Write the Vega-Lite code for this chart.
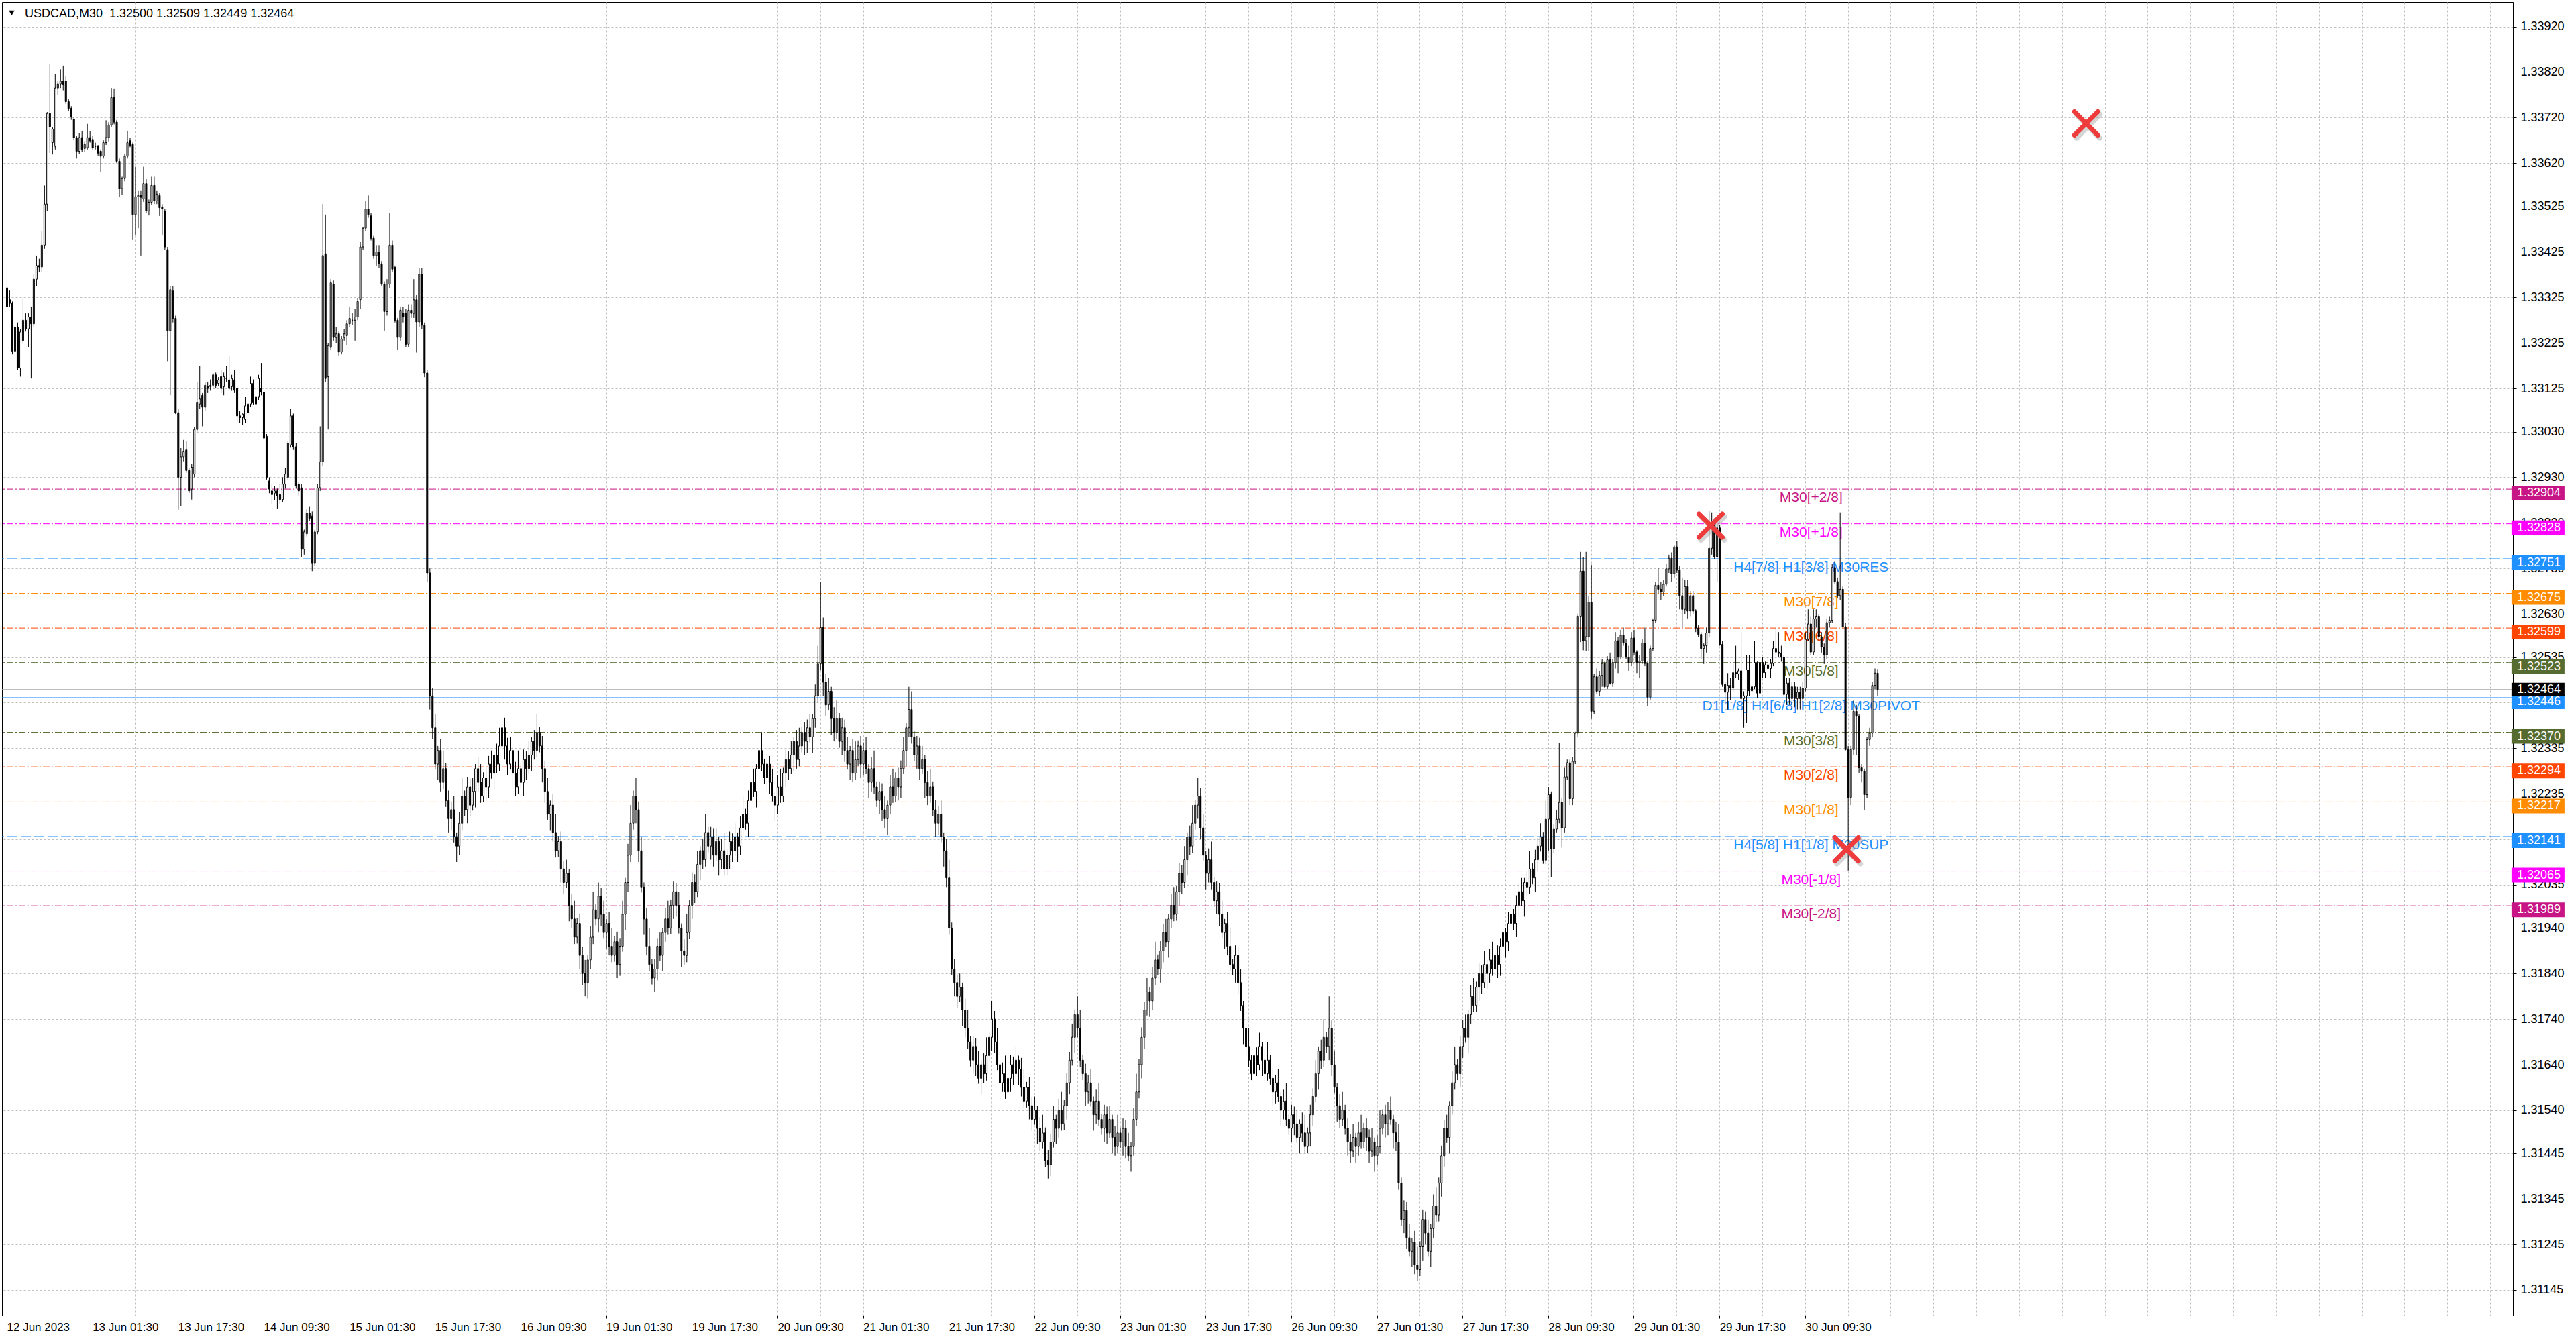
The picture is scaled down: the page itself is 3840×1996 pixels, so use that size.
{
"$schema":"https://vega.github.io/schema/vega-lite/v6.json",
"width":3743,"height":1958,
"autosize":"none",
"padding":{"left":3,"top":3,"right":94,"bottom":35},
"background":"white",
"config":{"view":{"stroke":"#000","strokeWidth":1},"font":"Liberation Sans"},
"datasets":{
"levels":[
{"v":1.32904,"label":"M30[+2/8]"},
{"v":1.32828,"label":"M30[+1/8]"},
{"v":1.32751,"label":"H4[7/8] H1[3/8] M30RES"},
{"v":1.32675,"label":"M30[7/8]"},
{"v":1.32599,"label":"M30[6/8]"},
{"v":1.32523,"label":"M30[5/8]"},
{"v":1.32446,"label":"D1[1/8] H4[6/8] H1[2/8] M30PIVOT"},
{"v":1.32370,"label":"M30[3/8]"},
{"v":1.32294,"label":"M30[2/8]"},
{"v":1.32217,"label":"M30[1/8]"},
{"v":1.32141,"label":"H4[5/8] H1[1/8] M30SUP"},
{"v":1.32065,"label":"M30[-1/8]"},
{"v":1.31989,"label":"M30[-2/8]"}
],
"bid":[{"v":1.32464}],
"marks":[{"i":636.7,"p":1.32824},{"i":687.5,"p":1.32113},{"i":777,"p":1.33707}],
"bars":[
{"i":0,"o":1.33346,"h":1.33391,"l":1.33301,"c":1.33305},
{"i":1,"o":1.33320,"h":1.33340,"l":1.33305,"c":1.33312},
{"i":2,"o":1.33312,"h":1.33316,"l":1.33200,"c":1.33207},
{"i":3,"o":1.33207,"h":1.33264,"l":1.33196,"c":1.33260},
{"i":4,"o":1.33260,"h":1.33270,"l":1.33166,"c":1.33170},
{"i":5,"o":1.33170,"h":1.33256,"l":1.33151,"c":1.33249},
{"i":6,"o":1.33230,"h":1.33324,"l":1.33222,"c":1.33275},
{"i":7,"o":1.33275,"h":1.33290,"l":1.33250,"c":1.33256},
{"i":8,"o":1.33256,"h":1.33290,"l":1.33215,"c":1.33282},
{"i":9,"o":1.33282,"h":1.33305,"l":1.33147,"c":1.33267},
{"i":10,"o":1.33267,"h":1.33376,"l":1.33260,"c":1.33365},
{"i":11,"o":1.33365,"h":1.33417,"l":1.33350,"c":1.33395},
{"i":12,"o":1.33395,"h":1.33410,"l":1.33380,"c":1.33392},
{"i":13,"o":1.33392,"h":1.33470,"l":1.33380,"c":1.33440},
{"i":14,"o":1.33440,"h":1.33571,"l":1.33432,"c":1.33530},
{"i":15,"o":1.33530,"h":1.33732,"l":1.33515,"c":1.33729},
{"i":16,"o":1.33729,"h":1.33837,"l":1.33642,"c":1.33699},
{"i":17,"o":1.33665,"h":1.33699,"l":1.33639,"c":1.33695},
{"i":18,"o":1.33657,"h":1.33815,"l":1.33650,"c":1.33785},
{"i":19,"o":1.33785,"h":1.33800,"l":1.33770,"c":1.33794},
{"i":20,"o":1.33794,"h":1.33826,"l":1.33785,"c":1.33800},
{"i":21,"o":1.33800,"h":1.33834,"l":1.33780,"c":1.33792},
{"i":22,"o":1.33800,"h":1.33810,"l":1.33750,"c":1.33755},
{"i":23,"o":1.33755,"h":1.33760,"l":1.33735,"c":1.33740},
{"i":24,"o":1.33740,"h":1.33745,"l":1.33715,"c":1.33721},
{"i":25,"o":1.33716,"h":1.33720,"l":1.33670,"c":1.33676},
{"i":26,"o":1.33676,"h":1.33680,"l":1.33630,"c":1.33646},
{"i":27,"o":1.33646,"h":1.33685,"l":1.33640,"c":1.33676},
{"i":28,"o":1.33676,"h":1.33691,"l":1.33645,"c":1.33650},
{"i":29,"o":1.33652,"h":1.33668,"l":1.33645,"c":1.33661},
{"i":30,"o":1.33654,"h":1.33706,"l":1.33650,"c":1.33676},
{"i":31,"o":1.33676,"h":1.33690,"l":1.33665,"c":1.33669},
{"i":32,"o":1.33672,"h":1.33680,"l":1.33650,"c":1.33654},
{"i":33,"o":1.33657,"h":1.33665,"l":1.33650,"c":1.33657},
{"i":34,"o":1.33657,"h":1.33660,"l":1.33635,"c":1.33642},
{"i":35,"o":1.33646,"h":1.33650,"l":1.33601,"c":1.33635},
{"i":36,"o":1.33635,"h":1.33670,"l":1.33630,"c":1.33665},
{"i":37,"o":1.33665,"h":1.33714,"l":1.33660,"c":1.33676},
{"i":38,"o":1.33676,"h":1.33710,"l":1.33668,"c":1.33704},
{"i":39,"o":1.33704,"h":1.33785,"l":1.33700,"c":1.33764},
{"i":40,"o":1.33764,"h":1.33784,"l":1.33705,"c":1.33710},
{"i":41,"o":1.33710,"h":1.33715,"l":1.33620,"c":1.33624},
{"i":42,"o":1.33624,"h":1.33630,"l":1.33546,"c":1.33564},
{"i":43,"o":1.33564,"h":1.33590,"l":1.33550,"c":1.33586},
{"i":44,"o":1.33586,"h":1.33640,"l":1.33580,"c":1.33635},
{"i":45,"o":1.33635,"h":1.33691,"l":1.33630,"c":1.33665},
{"i":46,"o":1.33669,"h":1.33675,"l":1.33655,"c":1.33659},
{"i":47,"o":1.33661,"h":1.33665,"l":1.33451,"c":1.33507},
{"i":48,"o":1.33507,"h":1.33612,"l":1.33462,"c":1.33546},
{"i":49,"o":1.33546,"h":1.33560,"l":1.33477,"c":1.33549},
{"i":50,"o":1.33549,"h":1.33560,"l":1.33417,"c":1.33545},
{"i":51,"o":1.33541,"h":1.33612,"l":1.33535,"c":1.33575},
{"i":52,"o":1.33575,"h":1.33585,"l":1.33510,"c":1.33515},
{"i":53,"o":1.33515,"h":1.33540,"l":1.33505,"c":1.33534},
{"i":54,"o":1.33534,"h":1.33590,"l":1.33528,"c":1.33571},
{"i":55,"o":1.33571,"h":1.33590,"l":1.33530,"c":1.33537},
{"i":56,"o":1.33537,"h":1.33560,"l":1.33530,"c":1.33552},
{"i":57,"o":1.33549,"h":1.33555,"l":1.33504,"c":1.33522},
{"i":58,"o":1.33524,"h":1.33530,"l":1.33462,"c":1.33519},
{"i":59,"o":1.33515,"h":1.33520,"l":1.33430,"c":1.33436},
{"i":60,"o":1.33430,"h":1.33436,"l":1.33185,"c":1.33252},
{"i":61,"o":1.33252,"h":1.33350,"l":1.33110,"c":1.33342},
{"i":62,"o":1.33339,"h":1.33350,"l":1.33270,"c":1.33279},
{"i":63,"o":1.33279,"h":1.33285,"l":1.33069,"c":1.33072},
{"i":64,"o":1.33072,"h":1.33080,"l":1.32859,"c":1.32930},
{"i":65,"o":1.32930,"h":1.32994,"l":1.32866,"c":1.32975},
{"i":66,"o":1.32975,"h":1.33012,"l":1.32965,"c":1.32986},
{"i":67,"o":1.32990,"h":1.33009,"l":1.32940,"c":1.32945},
{"i":68,"o":1.32945,"h":1.32950,"l":1.32895,"c":1.32900},
{"i":69,"o":1.32904,"h":1.32960,"l":1.32881,"c":1.32952},
{"i":70,"o":1.32937,"h":1.33040,"l":1.32930,"c":1.33035},
{"i":71,"o":1.33035,"h":1.33140,"l":1.33030,"c":1.33095},
{"i":72,"o":1.33091,"h":1.33174,"l":1.33080,"c":1.33102},
{"i":73,"o":1.33110,"h":1.33115,"l":1.33042,"c":1.33084},
{"i":74,"o":1.33084,"h":1.33140,"l":1.33075,"c":1.33132},
{"i":75,"o":1.33129,"h":1.33140,"l":1.33115,"c":1.33125},
{"i":76,"o":1.33129,"h":1.33145,"l":1.33120,"c":1.33132},
{"i":77,"o":1.33132,"h":1.33159,"l":1.33125,"c":1.33155},
{"i":78,"o":1.33155,"h":1.33160,"l":1.33125,"c":1.33132},
{"i":79,"o":1.33136,"h":1.33150,"l":1.33130,"c":1.33144},
{"i":80,"o":1.33151,"h":1.33165,"l":1.33115,"c":1.33125},
{"i":81,"o":1.33129,"h":1.33160,"l":1.33110,"c":1.33151},
{"i":82,"o":1.33147,"h":1.33174,"l":1.33140,"c":1.33147},
{"i":83,"o":1.33144,"h":1.33196,"l":1.33120,"c":1.33125},
{"i":84,"o":1.33129,"h":1.33155,"l":1.33120,"c":1.33147},
{"i":85,"o":1.33144,"h":1.33166,"l":1.33115,"c":1.33121},
{"i":86,"o":1.33125,"h":1.33130,"l":1.33050,"c":1.33065},
{"i":87,"o":1.33065,"h":1.33075,"l":1.33050,"c":1.33061},
{"i":88,"o":1.33061,"h":1.33070,"l":1.33045,"c":1.33069},
{"i":89,"o":1.33057,"h":1.33106,"l":1.33050,"c":1.33087},
{"i":90,"o":1.33072,"h":1.33095,"l":1.33065,"c":1.33091},
{"i":91,"o":1.33091,"h":1.33151,"l":1.33085,"c":1.33136},
{"i":92,"o":1.33136,"h":1.33145,"l":1.33090,"c":1.33095},
{"i":93,"o":1.33091,"h":1.33110,"l":1.33060,"c":1.33106},
{"i":94,"o":1.33106,"h":1.33155,"l":1.33100,"c":1.33147},
{"i":95,"o":1.33125,"h":1.33181,"l":1.33110,"c":1.33117},
{"i":96,"o":1.33117,"h":1.33125,"l":1.33010,"c":1.33016},
{"i":97,"o":1.33020,"h":1.33025,"l":1.32925,"c":1.32930},
{"i":98,"o":1.32922,"h":1.32930,"l":1.32895,"c":1.32904},
{"i":99,"o":1.32900,"h":1.32915,"l":1.32870,"c":1.32892},
{"i":100,"o":1.32895,"h":1.32910,"l":1.32880,"c":1.32900},
{"i":101,"o":1.32900,"h":1.32905,"l":1.32860,"c":1.32889},
{"i":102,"o":1.32892,"h":1.32915,"l":1.32870,"c":1.32881},
{"i":103,"o":1.32881,"h":1.32930,"l":1.32875,"c":1.32915},
{"i":104,"o":1.32915,"h":1.32950,"l":1.32905,"c":1.32937},
{"i":105,"o":1.32930,"h":1.33010,"l":1.32925,"c":1.33005},
{"i":106,"o":1.33001,"h":1.33080,"l":1.32995,"c":1.33065},
{"i":107,"o":1.33065,"h":1.33070,"l":1.32990,"c":1.32997},
{"i":108,"o":1.32997,"h":1.33005,"l":1.32905,"c":1.32911},
{"i":109,"o":1.32915,"h":1.32920,"l":1.32890,"c":1.32900},
{"i":110,"o":1.32907,"h":1.32915,"l":1.32754,"c":1.32772},
{"i":111,"o":1.32772,"h":1.32815,"l":1.32760,"c":1.32810},
{"i":112,"o":1.32806,"h":1.32860,"l":1.32800,"c":1.32851},
{"i":113,"o":1.32851,"h":1.32865,"l":1.32835,"c":1.32840},
{"i":114,"o":1.32845,"h":1.32855,"l":1.32724,"c":1.32742},
{"i":115,"o":1.32742,"h":1.32815,"l":1.32735,"c":1.32810},
{"i":116,"o":1.32810,"h":1.32915,"l":1.32805,"c":1.32907},
{"i":117,"o":1.32907,"h":1.33042,"l":1.32900,"c":1.32964},
{"i":118,"o":1.32964,"h":1.33530,"l":1.32955,"c":1.33417},
{"i":119,"o":1.33421,"h":1.33507,"l":1.33140,"c":1.33147},
{"i":120,"o":1.33151,"h":1.33225,"l":1.33035,"c":1.33219},
{"i":121,"o":1.33215,"h":1.33365,"l":1.33210,"c":1.33357},
{"i":122,"o":1.33354,"h":1.33362,"l":1.33230,"c":1.33237},
{"i":123,"o":1.33237,"h":1.33260,"l":1.33225,"c":1.33245},
{"i":124,"o":1.33245,"h":1.33250,"l":1.33196,"c":1.33205},
{"i":125,"o":1.33205,"h":1.33240,"l":1.33200,"c":1.33234},
{"i":126,"o":1.33237,"h":1.33255,"l":1.33230,"c":1.33245},
{"i":127,"o":1.33241,"h":1.33275,"l":1.33220,"c":1.33267},
{"i":128,"o":1.33267,"h":1.33305,"l":1.33260,"c":1.33279},
{"i":129,"o":1.33275,"h":1.33290,"l":1.33265,"c":1.33275},
{"i":130,"o":1.33275,"h":1.33300,"l":1.33230,"c":1.33282},
{"i":131,"o":1.33282,"h":1.33324,"l":1.33275,"c":1.33316},
{"i":132,"o":1.33320,"h":1.33447,"l":1.33300,"c":1.33436},
{"i":133,"o":1.33436,"h":1.33480,"l":1.33430,"c":1.33477},
{"i":134,"o":1.33477,"h":1.33537,"l":1.33470,"c":1.33519},
{"i":135,"o":1.33519,"h":1.33549,"l":1.33500,"c":1.33507},
{"i":136,"o":1.33504,"h":1.33510,"l":1.33450,"c":1.33455},
{"i":137,"o":1.33455,"h":1.33460,"l":1.33410,"c":1.33417},
{"i":138,"o":1.33417,"h":1.33440,"l":1.33395,"c":1.33425},
{"i":139,"o":1.33425,"h":1.33440,"l":1.33390,"c":1.33399},
{"i":140,"o":1.33399,"h":1.33405,"l":1.33350,"c":1.33354},
{"i":141,"o":1.33354,"h":1.33360,"l":1.33252,"c":1.33294},
{"i":142,"o":1.33294,"h":1.33365,"l":1.33285,"c":1.33354},
{"i":143,"o":1.33354,"h":1.33511,"l":1.33345,"c":1.33440},
{"i":144,"o":1.33440,"h":1.33450,"l":1.33380,"c":1.33387},
{"i":145,"o":1.33391,"h":1.33395,"l":1.33270,"c":1.33275},
{"i":146,"o":1.33275,"h":1.33280,"l":1.33210,"c":1.33237},
{"i":147,"o":1.33237,"h":1.33305,"l":1.33230,"c":1.33297},
{"i":148,"o":1.33290,"h":1.33305,"l":1.33270,"c":1.33282},
{"i":149,"o":1.33290,"h":1.33300,"l":1.33215,"c":1.33222},
{"i":150,"o":1.33222,"h":1.33310,"l":1.33215,"c":1.33297},
{"i":151,"o":1.33297,"h":1.33310,"l":1.33280,"c":1.33290},
{"i":152,"o":1.33290,"h":1.33365,"l":1.33280,"c":1.33320},
{"i":153,"o":1.33320,"h":1.33330,"l":1.33204,"c":1.33271},
{"i":154,"o":1.33271,"h":1.33390,"l":1.33260,"c":1.33376},
{"i":155,"o":1.33376,"h":1.33390,"l":1.33255,"c":1.33264},
{"i":156,"o":1.33264,"h":1.33270,"l":1.33150,"c":1.33159},
{"i":157,"o":1.33159,"h":1.33165,"l":1.32700,"c":1.32720},
{"i":158,"o":1.32720,"h":1.32730,"l":1.32420,"c":1.32450},
{"i":159,"o":1.32450,"h":1.32468,"l":1.32355,"c":1.32380},
{"i":160,"o":1.32380,"h":1.32410,"l":1.32288,"c":1.32300},
{"i":161,"o":1.32300,"h":1.32340,"l":1.32265,"c":1.32330},
{"i":162,"o":1.32330,"h":1.32355,"l":1.32240,"c":1.32260},
{"i":163,"o":1.32260,"h":1.32330,"l":1.32245,"c":1.32290},
{"i":164,"o":1.32290,"h":1.32302,"l":1.32206,"c":1.32220},
{"i":165,"o":1.32220,"h":1.32242,"l":1.32150,"c":1.32180},
{"i":166,"o":1.32180,"h":1.32218,"l":1.32155,"c":1.32200},
{"i":167,"o":1.32200,"h":1.32230,"l":1.32128,"c":1.32140},
{"i":168,"o":1.32140,"h":1.32150,"l":1.32085,"c":1.32120},
{"i":169,"o":1.32120,"h":1.32195,"l":1.32100,"c":1.32170},
{"i":170,"o":1.32170,"h":1.32270,"l":1.32155,"c":1.32230},
{"i":171,"o":1.32230,"h":1.32242,"l":1.32186,"c":1.32200},
{"i":172,"o":1.32200,"h":1.32272,"l":1.32170,"c":1.32250},
{"i":173,"o":1.32250,"h":1.32268,"l":1.32185,"c":1.32210},
{"i":174,"o":1.32210,"h":1.32270,"l":1.32198,"c":1.32240},
{"i":175,"o":1.32240,"h":1.32300,"l":1.32205,"c":1.32290},
{"i":176,"o":1.32290,"h":1.32315,"l":1.32240,"c":1.32260},
{"i":177,"o":1.32260,"h":1.32300,"l":1.32215,"c":1.32230},
{"i":178,"o":1.32230,"h":1.32282,"l":1.32216,"c":1.32270},
{"i":179,"o":1.32270,"h":1.32292,"l":1.32220,"c":1.32250},
{"i":180,"o":1.32250,"h":1.32318,"l":1.32225,"c":1.32300},
{"i":181,"o":1.32300,"h":1.32330,"l":1.32268,"c":1.32280},
{"i":182,"o":1.32280,"h":1.32330,"l":1.32245,"c":1.32320},
{"i":183,"o":1.32320,"h":1.32345,"l":1.32280,"c":1.32300},
{"i":184,"o":1.32300,"h":1.32380,"l":1.32285,"c":1.32340},
{"i":185,"o":1.32340,"h":1.32400,"l":1.32326,"c":1.32380},
{"i":186,"o":1.32380,"h":1.32402,"l":1.32310,"c":1.32340},
{"i":187,"o":1.32340,"h":1.32358,"l":1.32275,"c":1.32300},
{"i":188,"o":1.32300,"h":1.32360,"l":1.32288,"c":1.32330},
{"i":189,"o":1.32330,"h":1.32340,"l":1.32245,"c":1.32280},
{"i":190,"o":1.32280,"h":1.32305,"l":1.32230,"c":1.32250},
{"i":191,"o":1.32250,"h":1.32330,"l":1.32235,"c":1.32290},
{"i":192,"o":1.32290,"h":1.32302,"l":1.32246,"c":1.32260},
{"i":193,"o":1.32260,"h":1.32332,"l":1.32230,"c":1.32310},
{"i":194,"o":1.32310,"h":1.32328,"l":1.32265,"c":1.32290},
{"i":195,"o":1.32290,"h":1.32350,"l":1.32278,"c":1.32320},
{"i":196,"o":1.32320,"h":1.32360,"l":1.32285,"c":1.32350},
{"i":197,"o":1.32350,"h":1.32375,"l":1.32310,"c":1.32330},
{"i":198,"o":1.32330,"h":1.32410,"l":1.32315,"c":1.32370},
{"i":199,"o":1.32370,"h":1.32382,"l":1.32326,"c":1.32340},
{"i":200,"o":1.32340,"h":1.32362,"l":1.32260,"c":1.32290},
{"i":201,"o":1.32290,"h":1.32308,"l":1.32215,"c":1.32240},
{"i":202,"o":1.32240,"h":1.32270,"l":1.32178,"c":1.32190},
{"i":203,"o":1.32190,"h":1.32220,"l":1.32155,"c":1.32210},
{"i":204,"o":1.32210,"h":1.32235,"l":1.32130,"c":1.32150},
{"i":205,"o":1.32150,"h":1.32190,"l":1.32095,"c":1.32110},
{"i":206,"o":1.32110,"h":1.32142,"l":1.32096,"c":1.32130},
{"i":207,"o":1.32130,"h":1.32152,"l":1.32040,"c":1.32070},
{"i":208,"o":1.32070,"h":1.32088,"l":1.32015,"c":1.32040},
{"i":209,"o":1.32040,"h":1.32090,"l":1.32028,"c":1.32060},
{"i":210,"o":1.32060,"h":1.32070,"l":1.31955,"c":1.31990},
{"i":211,"o":1.31990,"h":1.32015,"l":1.31940,"c":1.31960},
{"i":212,"o":1.31960,"h":1.32000,"l":1.31905,"c":1.31920},
{"i":213,"o":1.31920,"h":1.31962,"l":1.31906,"c":1.31950},
{"i":214,"o":1.31950,"h":1.31972,"l":1.31850,"c":1.31880},
{"i":215,"o":1.31880,"h":1.31898,"l":1.31815,"c":1.31840},
{"i":216,"o":1.31840,"h":1.31870,"l":1.31790,"c":1.31820},
{"i":217,"o":1.31820,"h":1.31880,"l":1.31785,"c":1.31870},
{"i":218,"o":1.31870,"h":1.31945,"l":1.31850,"c":1.31920},
{"i":219,"o":1.31920,"h":1.32020,"l":1.31905,"c":1.31980},
{"i":220,"o":1.31980,"h":1.31992,"l":1.31946,"c":1.31960},
{"i":221,"o":1.31960,"h":1.32040,"l":1.31930,"c":1.32010},
{"i":222,"o":1.32010,"h":1.32028,"l":1.31945,"c":1.31970},
{"i":223,"o":1.31970,"h":1.32000,"l":1.31918,"c":1.31930},
{"i":224,"o":1.31930,"h":1.31960,"l":1.31895,"c":1.31950},
{"i":225,"o":1.31950,"h":1.31975,"l":1.31880,"c":1.31900},
{"i":226,"o":1.31900,"h":1.31940,"l":1.31865,"c":1.31880},
{"i":227,"o":1.31880,"h":1.31922,"l":1.31866,"c":1.31910},
{"i":228,"o":1.31910,"h":1.31932,"l":1.31830,"c":1.31860},
{"i":229,"o":1.31860,"h":1.31918,"l":1.31835,"c":1.31900},
{"i":230,"o":1.31900,"h":1.32000,"l":1.31888,"c":1.31970},
{"i":231,"o":1.31970,"h":1.32050,"l":1.31935,"c":1.32040},
{"i":232,"o":1.32040,"h":1.32125,"l":1.32020,"c":1.32100},
{"i":233,"o":1.32100,"h":1.32210,"l":1.32085,"c":1.32170},
{"i":234,"o":1.32170,"h":1.32242,"l":1.32156,"c":1.32230},
{"i":235,"o":1.32230,"h":1.32270,"l":1.32170,"c":1.32200},
{"i":236,"o":1.32200,"h":1.32218,"l":1.32085,"c":1.32110},
{"i":237,"o":1.32110,"h":1.32140,"l":1.32018,"c":1.32030},
{"i":238,"o":1.32030,"h":1.32040,"l":1.31925,"c":1.31960},
{"i":239,"o":1.31960,"h":1.31985,"l":1.31880,"c":1.31900},
{"i":240,"o":1.31900,"h":1.31940,"l":1.31845,"c":1.31860},
{"i":241,"o":1.31860,"h":1.31872,"l":1.31816,"c":1.31830},
{"i":242,"o":1.31830,"h":1.31872,"l":1.31800,"c":1.31850},
{"i":243,"o":1.31850,"h":1.31918,"l":1.31825,"c":1.31900},
{"i":244,"o":1.31900,"h":1.31930,"l":1.31868,"c":1.31880},
{"i":245,"o":1.31880,"h":1.31940,"l":1.31845,"c":1.31930},
{"i":246,"o":1.31930,"h":1.31985,"l":1.31910,"c":1.31960},
{"i":247,"o":1.31960,"h":1.32000,"l":1.31925,"c":1.31940},
{"i":248,"o":1.31940,"h":1.32002,"l":1.31926,"c":1.31990},
{"i":249,"o":1.31990,"h":1.32042,"l":1.31960,"c":1.32020},
{"i":250,"o":1.32020,"h":1.32038,"l":1.31965,"c":1.31990},
{"i":251,"o":1.31990,"h":1.32020,"l":1.31928,"c":1.31940},
{"i":252,"o":1.31940,"h":1.31950,"l":1.31855,"c":1.31890},
{"i":253,"o":1.31890,"h":1.31915,"l":1.31860,"c":1.31880},
{"i":254,"o":1.31880,"h":1.31970,"l":1.31865,"c":1.31930},
{"i":255,"o":1.31930,"h":1.32002,"l":1.31916,"c":1.31990},
{"i":256,"o":1.31990,"h":1.32062,"l":1.31960,"c":1.32040},
{"i":257,"o":1.32040,"h":1.32058,"l":1.31995,"c":1.32020},
{"i":258,"o":1.32020,"h":1.32110,"l":1.32008,"c":1.32080},
{"i":259,"o":1.32080,"h":1.32120,"l":1.32045,"c":1.32110},
{"i":260,"o":1.32110,"h":1.32135,"l":1.32070,"c":1.32090},
{"i":261,"o":1.32090,"h":1.32190,"l":1.32075,"c":1.32150},
{"i":262,"o":1.32150,"h":1.32162,"l":1.32106,"c":1.32120},
{"i":263,"o":1.32120,"h":1.32162,"l":1.32090,"c":1.32140},
{"i":264,"o":1.32140,"h":1.32158,"l":1.32075,"c":1.32100},
{"i":265,"o":1.32100,"h":1.32160,"l":1.32088,"c":1.32130},
{"i":266,"o":1.32130,"h":1.32140,"l":1.32055,"c":1.32090},
{"i":267,"o":1.32090,"h":1.32135,"l":1.32070,"c":1.32110},
{"i":268,"o":1.32110,"h":1.32150,"l":1.32055,"c":1.32070},
{"i":269,"o":1.32070,"h":1.32112,"l":1.32056,"c":1.32100},
{"i":270,"o":1.32100,"h":1.32152,"l":1.32070,"c":1.32130},
{"i":271,"o":1.32130,"h":1.32148,"l":1.32085,"c":1.32110},
{"i":272,"o":1.32110,"h":1.32170,"l":1.32098,"c":1.32140},
{"i":273,"o":1.32140,"h":1.32150,"l":1.32085,"c":1.32120},
{"i":274,"o":1.32120,"h":1.32185,"l":1.32100,"c":1.32160},
{"i":275,"o":1.32160,"h":1.32230,"l":1.32145,"c":1.32190},
{"i":276,"o":1.32190,"h":1.32202,"l":1.32156,"c":1.32170},
{"i":277,"o":1.32170,"h":1.32242,"l":1.32140,"c":1.32220},
{"i":278,"o":1.32220,"h":1.32278,"l":1.32195,"c":1.32260},
{"i":279,"o":1.32260,"h":1.32290,"l":1.32228,"c":1.32240},
{"i":280,"o":1.32240,"h":1.32300,"l":1.32205,"c":1.32290},
{"i":281,"o":1.32290,"h":1.32355,"l":1.32270,"c":1.32330},
{"i":282,"o":1.32330,"h":1.32370,"l":1.32285,"c":1.32300},
{"i":283,"o":1.32300,"h":1.32312,"l":1.32256,"c":1.32270},
{"i":284,"o":1.32270,"h":1.32322,"l":1.32240,"c":1.32300},
{"i":285,"o":1.32300,"h":1.32318,"l":1.32235,"c":1.32260},
{"i":286,"o":1.32260,"h":1.32290,"l":1.32218,"c":1.32230},
{"i":287,"o":1.32230,"h":1.32240,"l":1.32175,"c":1.32210},
{"i":288,"o":1.32210,"h":1.32275,"l":1.32190,"c":1.32250},
{"i":289,"o":1.32250,"h":1.32290,"l":1.32215,"c":1.32230},
{"i":290,"o":1.32230,"h":1.32292,"l":1.32216,"c":1.32280},
{"i":291,"o":1.32280,"h":1.32332,"l":1.32250,"c":1.32310},
{"i":292,"o":1.32310,"h":1.32328,"l":1.32265,"c":1.32290},
{"i":293,"o":1.32290,"h":1.32350,"l":1.32278,"c":1.32320},
{"i":294,"o":1.32320,"h":1.32360,"l":1.32285,"c":1.32350},
{"i":295,"o":1.32350,"h":1.32375,"l":1.32290,"c":1.32310},
{"i":296,"o":1.32310,"h":1.32380,"l":1.32295,"c":1.32340},
{"i":297,"o":1.32340,"h":1.32382,"l":1.32326,"c":1.32370},
{"i":298,"o":1.32370,"h":1.32392,"l":1.32320,"c":1.32350},
{"i":299,"o":1.32350,"h":1.32398,"l":1.32325,"c":1.32380},
{"i":300,"o":1.32380,"h":1.32410,"l":1.32348,"c":1.32360},
{"i":301,"o":1.32360,"h":1.32410,"l":1.32325,"c":1.32400},
{"i":302,"o":1.32400,"h":1.32475,"l":1.32380,"c":1.32450},
{"i":303,"o":1.32450,"h":1.32560,"l":1.32435,"c":1.32520},
{"i":304,"o":1.32520,"h":1.32700,"l":1.32506,"c":1.32600},
{"i":305,"o":1.32600,"h":1.32622,"l":1.32450,"c":1.32480},
{"i":306,"o":1.32480,"h":1.32498,"l":1.32405,"c":1.32430},
{"i":307,"o":1.32430,"h":1.32490,"l":1.32418,"c":1.32460},
{"i":308,"o":1.32460,"h":1.32470,"l":1.32365,"c":1.32400},
{"i":309,"o":1.32400,"h":1.32425,"l":1.32350,"c":1.32370},
{"i":310,"o":1.32370,"h":1.32440,"l":1.32355,"c":1.32400},
{"i":311,"o":1.32400,"h":1.32412,"l":1.32336,"c":1.32350},
{"i":312,"o":1.32350,"h":1.32402,"l":1.32320,"c":1.32380},
{"i":313,"o":1.32380,"h":1.32398,"l":1.32305,"c":1.32330},
{"i":314,"o":1.32330,"h":1.32360,"l":1.32288,"c":1.32300},
{"i":315,"o":1.32300,"h":1.32340,"l":1.32265,"c":1.32330},
{"i":316,"o":1.32330,"h":1.32355,"l":1.32260,"c":1.32280},
{"i":317,"o":1.32280,"h":1.32350,"l":1.32265,"c":1.32310},
{"i":318,"o":1.32310,"h":1.32352,"l":1.32296,"c":1.32340},
{"i":319,"o":1.32340,"h":1.32362,"l":1.32270,"c":1.32300},
{"i":320,"o":1.32300,"h":1.32348,"l":1.32275,"c":1.32330},
{"i":321,"o":1.32330,"h":1.32360,"l":1.32278,"c":1.32290},
{"i":322,"o":1.32290,"h":1.32300,"l":1.32225,"c":1.32260},
{"i":323,"o":1.32260,"h":1.32315,"l":1.32240,"c":1.32290},
{"i":324,"o":1.32290,"h":1.32330,"l":1.32235,"c":1.32250},
{"i":325,"o":1.32250,"h":1.32262,"l":1.32206,"c":1.32220},
{"i":326,"o":1.32220,"h":1.32262,"l":1.32190,"c":1.32240},
{"i":327,"o":1.32240,"h":1.32258,"l":1.32175,"c":1.32200},
{"i":328,"o":1.32200,"h":1.32230,"l":1.32160,"c":1.32180},
{"i":329,"o":1.32180,"h":1.32220,"l":1.32145,"c":1.32210},
{"i":330,"o":1.32210,"h":1.32275,"l":1.32190,"c":1.32250},
{"i":331,"o":1.32250,"h":1.32290,"l":1.32215,"c":1.32230},
{"i":332,"o":1.32230,"h":1.32282,"l":1.32216,"c":1.32270},
{"i":333,"o":1.32270,"h":1.32292,"l":1.32220,"c":1.32250},
{"i":334,"o":1.32250,"h":1.32308,"l":1.32225,"c":1.32290},
{"i":335,"o":1.32290,"h":1.32360,"l":1.32278,"c":1.32330},
{"i":336,"o":1.32330,"h":1.32390,"l":1.32295,"c":1.32380},
{"i":337,"o":1.32380,"h":1.32470,"l":1.32360,"c":1.32420},
{"i":338,"o":1.32420,"h":1.32460,"l":1.32345,"c":1.32360},
{"i":339,"o":1.32360,"h":1.32372,"l":1.32306,"c":1.32320},
{"i":340,"o":1.32320,"h":1.32362,"l":1.32290,"c":1.32340},
{"i":341,"o":1.32340,"h":1.32358,"l":1.32265,"c":1.32290},
{"i":342,"o":1.32290,"h":1.32340,"l":1.32278,"c":1.32310},
{"i":343,"o":1.32310,"h":1.32320,"l":1.32225,"c":1.32260},
{"i":344,"o":1.32260,"h":1.32285,"l":1.32210,"c":1.32230},
{"i":345,"o":1.32230,"h":1.32290,"l":1.32215,"c":1.32250},
{"i":346,"o":1.32250,"h":1.32262,"l":1.32186,"c":1.32200},
{"i":347,"o":1.32200,"h":1.32222,"l":1.32140,"c":1.32170},
{"i":348,"o":1.32170,"h":1.32208,"l":1.32145,"c":1.32190},
{"i":349,"o":1.32190,"h":1.32220,"l":1.32128,"c":1.32140},
{"i":350,"o":1.32140,"h":1.32150,"l":1.32075,"c":1.32110},
{"i":351,"o":1.32110,"h":1.32135,"l":1.32030,"c":1.32050},
{"i":352,"o":1.32050,"h":1.32090,"l":1.31925,"c":1.31940},
{"i":353,"o":1.31940,"h":1.31952,"l":1.31836,"c":1.31850},
{"i":354,"o":1.31850,"h":1.31872,"l":1.31790,"c":1.31820},
{"i":355,"o":1.31820,"h":1.31838,"l":1.31765,"c":1.31790},
{"i":356,"o":1.31790,"h":1.31840,"l":1.31778,"c":1.31810},
{"i":357,"o":1.31810,"h":1.31820,"l":1.31725,"c":1.31760},
{"i":358,"o":1.31760,"h":1.31785,"l":1.31700,"c":1.31720},
{"i":359,"o":1.31720,"h":1.31760,"l":1.31675,"c":1.31690},
{"i":360,"o":1.31690,"h":1.31702,"l":1.31636,"c":1.31650},
{"i":361,"o":1.31650,"h":1.31702,"l":1.31620,"c":1.31680},
{"i":362,"o":1.31680,"h":1.31698,"l":1.31615,"c":1.31640},
{"i":363,"o":1.31640,"h":1.31670,"l":1.31598,"c":1.31610},
{"i":364,"o":1.31610,"h":1.31650,"l":1.31575,"c":1.31640},
{"i":365,"o":1.31640,"h":1.31665,"l":1.31600,"c":1.31620},
{"i":366,"o":1.31620,"h":1.31700,"l":1.31605,"c":1.31660},
{"i":367,"o":1.31660,"h":1.31712,"l":1.31646,"c":1.31700},
{"i":368,"o":1.31700,"h":1.31780,"l":1.31670,"c":1.31740},
{"i":369,"o":1.31740,"h":1.31758,"l":1.31665,"c":1.31690},
{"i":370,"o":1.31690,"h":1.31720,"l":1.31628,"c":1.31640},
{"i":371,"o":1.31640,"h":1.31650,"l":1.31565,"c":1.31600},
{"i":372,"o":1.31600,"h":1.31645,"l":1.31580,"c":1.31620},
{"i":373,"o":1.31620,"h":1.31660,"l":1.31565,"c":1.31580},
{"i":374,"o":1.31580,"h":1.31622,"l":1.31566,"c":1.31610},
{"i":375,"o":1.31610,"h":1.31662,"l":1.31580,"c":1.31640},
{"i":376,"o":1.31640,"h":1.31658,"l":1.31595,"c":1.31620},
{"i":377,"o":1.31620,"h":1.31680,"l":1.31608,"c":1.31650},
{"i":378,"o":1.31650,"h":1.31660,"l":1.31595,"c":1.31630},
{"i":379,"o":1.31630,"h":1.31655,"l":1.31570,"c":1.31590},
{"i":380,"o":1.31590,"h":1.31630,"l":1.31545,"c":1.31560},
{"i":381,"o":1.31560,"h":1.31602,"l":1.31546,"c":1.31590},
{"i":382,"o":1.31590,"h":1.31612,"l":1.31520,"c":1.31550},
{"i":383,"o":1.31550,"h":1.31568,"l":1.31495,"c":1.31520},
{"i":384,"o":1.31520,"h":1.31570,"l":1.31508,"c":1.31540},
{"i":385,"o":1.31540,"h":1.31550,"l":1.31465,"c":1.31500},
{"i":386,"o":1.31500,"h":1.31525,"l":1.31450,"c":1.31470},
{"i":387,"o":1.31470,"h":1.31530,"l":1.31455,"c":1.31490},
{"i":388,"o":1.31490,"h":1.31502,"l":1.31416,"c":1.31430},
{"i":389,"o":1.31430,"h":1.31452,"l":1.31390,"c":1.31420},
{"i":390,"o":1.31420,"h":1.31488,"l":1.31395,"c":1.31470},
{"i":391,"o":1.31470,"h":1.31550,"l":1.31458,"c":1.31520},
{"i":392,"o":1.31520,"h":1.31530,"l":1.31465,"c":1.31500},
{"i":393,"o":1.31500,"h":1.31565,"l":1.31480,"c":1.31540},
{"i":394,"o":1.31540,"h":1.31580,"l":1.31495,"c":1.31510},
{"i":395,"o":1.31510,"h":1.31562,"l":1.31496,"c":1.31550},
{"i":396,"o":1.31550,"h":1.31622,"l":1.31520,"c":1.31600},
{"i":397,"o":1.31600,"h":1.31668,"l":1.31575,"c":1.31650},
{"i":398,"o":1.31650,"h":1.31730,"l":1.31638,"c":1.31700},
{"i":399,"o":1.31700,"h":1.31760,"l":1.31665,"c":1.31750},
{"i":400,"o":1.31750,"h":1.31790,"l":1.31700,"c":1.31720},
{"i":401,"o":1.31720,"h":1.31760,"l":1.31635,"c":1.31650},
{"i":402,"o":1.31650,"h":1.31662,"l":1.31606,"c":1.31620},
{"i":403,"o":1.31620,"h":1.31642,"l":1.31550,"c":1.31580},
{"i":404,"o":1.31580,"h":1.31618,"l":1.31555,"c":1.31600},
{"i":405,"o":1.31600,"h":1.31630,"l":1.31548,"c":1.31560},
{"i":406,"o":1.31560,"h":1.31570,"l":1.31495,"c":1.31530},
{"i":407,"o":1.31530,"h":1.31585,"l":1.31510,"c":1.31560},
{"i":408,"o":1.31560,"h":1.31600,"l":1.31505,"c":1.31520},
{"i":409,"o":1.31520,"h":1.31532,"l":1.31486,"c":1.31500},
{"i":410,"o":1.31500,"h":1.31552,"l":1.31470,"c":1.31530},
{"i":411,"o":1.31530,"h":1.31548,"l":1.31465,"c":1.31490},
{"i":412,"o":1.31490,"h":1.31550,"l":1.31478,"c":1.31520},
{"i":413,"o":1.31520,"h":1.31530,"l":1.31445,"c":1.31480},
{"i":414,"o":1.31480,"h":1.31505,"l":1.31440,"c":1.31460},
{"i":415,"o":1.31460,"h":1.31530,"l":1.31445,"c":1.31490},
{"i":416,"o":1.31490,"h":1.31502,"l":1.31456,"c":1.31470},
{"i":417,"o":1.31470,"h":1.31522,"l":1.31440,"c":1.31500},
{"i":418,"o":1.31500,"h":1.31518,"l":1.31435,"c":1.31460},
{"i":419,"o":1.31460,"h":1.31490,"l":1.31428,"c":1.31440},
{"i":420,"o":1.31440,"h":1.31470,"l":1.31405,"c":1.31460},
{"i":421,"o":1.31460,"h":1.31545,"l":1.31440,"c":1.31520},
{"i":422,"o":1.31520,"h":1.31620,"l":1.31505,"c":1.31580},
{"i":423,"o":1.31580,"h":1.31652,"l":1.31566,"c":1.31640},
{"i":424,"o":1.31640,"h":1.31722,"l":1.31610,"c":1.31700},
{"i":425,"o":1.31700,"h":1.31778,"l":1.31675,"c":1.31760},
{"i":426,"o":1.31760,"h":1.31830,"l":1.31748,"c":1.31800},
{"i":427,"o":1.31800,"h":1.31810,"l":1.31745,"c":1.31780},
{"i":428,"o":1.31780,"h":1.31855,"l":1.31760,"c":1.31830},
{"i":429,"o":1.31830,"h":1.31910,"l":1.31815,"c":1.31870},
{"i":430,"o":1.31870,"h":1.31882,"l":1.31836,"c":1.31850},
{"i":431,"o":1.31850,"h":1.31912,"l":1.31820,"c":1.31890},
{"i":432,"o":1.31890,"h":1.31948,"l":1.31865,"c":1.31930},
{"i":433,"o":1.31930,"h":1.31960,"l":1.31898,"c":1.31910},
{"i":434,"o":1.31910,"h":1.31970,"l":1.31875,"c":1.31960},
{"i":435,"o":1.31960,"h":1.32015,"l":1.31940,"c":1.31990},
{"i":436,"o":1.31990,"h":1.32030,"l":1.31955,"c":1.31970},
{"i":437,"o":1.31970,"h":1.32032,"l":1.31956,"c":1.32020},
{"i":438,"o":1.32020,"h":1.32082,"l":1.31990,"c":1.32060},
{"i":439,"o":1.32060,"h":1.32078,"l":1.32015,"c":1.32040},
{"i":440,"o":1.32040,"h":1.32120,"l":1.32028,"c":1.32090},
{"i":441,"o":1.32090,"h":1.32150,"l":1.32055,"c":1.32140},
{"i":442,"o":1.32140,"h":1.32165,"l":1.32100,"c":1.32120},
{"i":443,"o":1.32120,"h":1.32210,"l":1.32105,"c":1.32170},
{"i":444,"o":1.32170,"h":1.32222,"l":1.32156,"c":1.32210},
{"i":445,"o":1.32210,"h":1.32270,"l":1.32180,"c":1.32230},
{"i":446,"o":1.32230,"h":1.32248,"l":1.32135,"c":1.32160},
{"i":447,"o":1.32160,"h":1.32190,"l":1.32088,"c":1.32100},
{"i":448,"o":1.32100,"h":1.32110,"l":1.32025,"c":1.32060},
{"i":449,"o":1.32060,"h":1.32115,"l":1.32040,"c":1.32090},
{"i":450,"o":1.32090,"h":1.32130,"l":1.32025,"c":1.32040},
{"i":451,"o":1.32040,"h":1.32052,"l":1.31986,"c":1.32000},
{"i":452,"o":1.32000,"h":1.32042,"l":1.31970,"c":1.32020},
{"i":453,"o":1.32020,"h":1.32038,"l":1.31945,"c":1.31970},
{"i":454,"o":1.31970,"h":1.32000,"l":1.31918,"c":1.31930},
{"i":455,"o":1.31930,"h":1.31960,"l":1.31895,"c":1.31950},
{"i":456,"o":1.31950,"h":1.31975,"l":1.31880,"c":1.31900},
{"i":457,"o":1.31900,"h":1.31940,"l":1.31845,"c":1.31860},
{"i":458,"o":1.31860,"h":1.31872,"l":1.31836,"c":1.31850},
{"i":459,"o":1.31850,"h":1.31902,"l":1.31820,"c":1.31880},
{"i":460,"o":1.31880,"h":1.31898,"l":1.31795,"c":1.31820},
{"i":461,"o":1.31820,"h":1.31850,"l":1.31758,"c":1.31770},
{"i":462,"o":1.31770,"h":1.31780,"l":1.31685,"c":1.31720},
{"i":463,"o":1.31720,"h":1.31745,"l":1.31660,"c":1.31680},
{"i":464,"o":1.31680,"h":1.31720,"l":1.31635,"c":1.31650},
{"i":465,"o":1.31650,"h":1.31662,"l":1.31606,"c":1.31620},
{"i":466,"o":1.31620,"h":1.31682,"l":1.31590,"c":1.31660},
{"i":467,"o":1.31660,"h":1.31678,"l":1.31615,"c":1.31640},
{"i":468,"o":1.31640,"h":1.31710,"l":1.31628,"c":1.31680},
{"i":469,"o":1.31680,"h":1.31690,"l":1.31615,"c":1.31650},
{"i":470,"o":1.31650,"h":1.31675,"l":1.31600,"c":1.31620},
{"i":471,"o":1.31620,"h":1.31690,"l":1.31605,"c":1.31650},
{"i":472,"o":1.31650,"h":1.31662,"l":1.31596,"c":1.31610},
{"i":473,"o":1.31610,"h":1.31632,"l":1.31550,"c":1.31580},
{"i":474,"o":1.31580,"h":1.31618,"l":1.31555,"c":1.31600},
{"i":475,"o":1.31600,"h":1.31630,"l":1.31558,"c":1.31570},
{"i":476,"o":1.31570,"h":1.31580,"l":1.31505,"c":1.31540},
{"i":477,"o":1.31540,"h":1.31585,"l":1.31520,"c":1.31560},
{"i":478,"o":1.31560,"h":1.31600,"l":1.31505,"c":1.31520},
{"i":479,"o":1.31520,"h":1.31532,"l":1.31486,"c":1.31500},
{"i":480,"o":1.31500,"h":1.31552,"l":1.31470,"c":1.31530},
{"i":481,"o":1.31530,"h":1.31548,"l":1.31485,"c":1.31510},
{"i":482,"o":1.31510,"h":1.31540,"l":1.31468,"c":1.31480},
{"i":483,"o":1.31480,"h":1.31520,"l":1.31445,"c":1.31510},
{"i":484,"o":1.31510,"h":1.31535,"l":1.31470,"c":1.31490},
{"i":485,"o":1.31490,"h":1.31530,"l":1.31445,"c":1.31460},
{"i":486,"o":1.31460,"h":1.31502,"l":1.31446,"c":1.31490},
{"i":487,"o":1.31490,"h":1.31552,"l":1.31460,"c":1.31530},
{"i":488,"o":1.31530,"h":1.31588,"l":1.31505,"c":1.31570},
{"i":489,"o":1.31570,"h":1.31650,"l":1.31558,"c":1.31620},
{"i":490,"o":1.31620,"h":1.31680,"l":1.31585,"c":1.31670},
{"i":491,"o":1.31670,"h":1.31695,"l":1.31630,"c":1.31650},
{"i":492,"o":1.31650,"h":1.31740,"l":1.31635,"c":1.31700},
{"i":493,"o":1.31700,"h":1.31712,"l":1.31666,"c":1.31680},
{"i":494,"o":1.31680,"h":1.31790,"l":1.31650,"c":1.31720},
{"i":495,"o":1.31720,"h":1.31738,"l":1.31615,"c":1.31640},
{"i":496,"o":1.31640,"h":1.31670,"l":1.31578,"c":1.31590},
{"i":497,"o":1.31590,"h":1.31600,"l":1.31515,"c":1.31550},
{"i":498,"o":1.31550,"h":1.31575,"l":1.31500,"c":1.31520},
{"i":499,"o":1.31520,"h":1.31580,"l":1.31505,"c":1.31540},
{"i":500,"o":1.31540,"h":1.31552,"l":1.31486,"c":1.31500},
{"i":501,"o":1.31500,"h":1.31522,"l":1.31440,"c":1.31470},
{"i":502,"o":1.31470,"h":1.31488,"l":1.31425,"c":1.31450},
{"i":503,"o":1.31450,"h":1.31510,"l":1.31438,"c":1.31480},
{"i":504,"o":1.31480,"h":1.31490,"l":1.31425,"c":1.31460},
{"i":505,"o":1.31460,"h":1.31515,"l":1.31440,"c":1.31490},
{"i":506,"o":1.31490,"h":1.31530,"l":1.31455,"c":1.31470},
{"i":507,"o":1.31470,"h":1.31512,"l":1.31456,"c":1.31500},
{"i":508,"o":1.31500,"h":1.31522,"l":1.31450,"c":1.31480},
{"i":509,"o":1.31480,"h":1.31498,"l":1.31425,"c":1.31450},
{"i":510,"o":1.31450,"h":1.31500,"l":1.31438,"c":1.31470},
{"i":511,"o":1.31470,"h":1.31480,"l":1.31405,"c":1.31440},
{"i":512,"o":1.31440,"h":1.31485,"l":1.31420,"c":1.31460},
{"i":513,"o":1.31460,"h":1.31540,"l":1.31445,"c":1.31500},
{"i":514,"o":1.31500,"h":1.31542,"l":1.31486,"c":1.31530},
{"i":515,"o":1.31530,"h":1.31552,"l":1.31480,"c":1.31510},
{"i":516,"o":1.31510,"h":1.31558,"l":1.31485,"c":1.31540},
{"i":517,"o":1.31540,"h":1.31570,"l":1.31508,"c":1.31520},
{"i":518,"o":1.31520,"h":1.31530,"l":1.31455,"c":1.31490},
{"i":519,"o":1.31490,"h":1.31515,"l":1.31450,"c":1.31470},
{"i":520,"o":1.31470,"h":1.31510,"l":1.31365,"c":1.31380},
{"i":521,"o":1.31380,"h":1.31392,"l":1.31286,"c":1.31300},
{"i":522,"o":1.31300,"h":1.31342,"l":1.31270,"c":1.31320},
{"i":523,"o":1.31320,"h":1.31338,"l":1.31235,"c":1.31260},
{"i":524,"o":1.31260,"h":1.31290,"l":1.31218,"c":1.31230},
{"i":525,"o":1.31230,"h":1.31260,"l":1.31195,"c":1.31250},
{"i":526,"o":1.31250,"h":1.31275,"l":1.31180,"c":1.31200},
{"i":527,"o":1.31200,"h":1.31240,"l":1.31165,"c":1.31190},
{"i":528,"o":1.31190,"h":1.31252,"l":1.31176,"c":1.31240},
{"i":529,"o":1.31240,"h":1.31322,"l":1.31210,"c":1.31300},
{"i":530,"o":1.31300,"h":1.31318,"l":1.31245,"c":1.31270},
{"i":531,"o":1.31270,"h":1.31300,"l":1.31218,"c":1.31230},
{"i":532,"o":1.31230,"h":1.31290,"l":1.31195,"c":1.31280},
{"i":533,"o":1.31280,"h":1.31355,"l":1.31260,"c":1.31330},
{"i":534,"o":1.31330,"h":1.31370,"l":1.31295,"c":1.31310},
{"i":535,"o":1.31310,"h":1.31392,"l":1.31296,"c":1.31380},
{"i":536,"o":1.31380,"h":1.31462,"l":1.31350,"c":1.31440},
{"i":537,"o":1.31440,"h":1.31518,"l":1.31415,"c":1.31500},
{"i":538,"o":1.31500,"h":1.31530,"l":1.31468,"c":1.31480},
{"i":539,"o":1.31480,"h":1.31560,"l":1.31445,"c":1.31550},
{"i":540,"o":1.31550,"h":1.31625,"l":1.31530,"c":1.31600},
{"i":541,"o":1.31600,"h":1.31680,"l":1.31585,"c":1.31640},
{"i":542,"o":1.31640,"h":1.31652,"l":1.31606,"c":1.31620},
{"i":543,"o":1.31620,"h":1.31702,"l":1.31590,"c":1.31680},
{"i":544,"o":1.31680,"h":1.31738,"l":1.31655,"c":1.31720},
{"i":545,"o":1.31720,"h":1.31750,"l":1.31688,"c":1.31700},
{"i":546,"o":1.31700,"h":1.31760,"l":1.31665,"c":1.31750},
{"i":547,"o":1.31750,"h":1.31815,"l":1.31730,"c":1.31790},
{"i":548,"o":1.31790,"h":1.31830,"l":1.31755,"c":1.31770},
{"i":549,"o":1.31770,"h":1.31822,"l":1.31756,"c":1.31810},
{"i":550,"o":1.31810,"h":1.31862,"l":1.31780,"c":1.31840},
{"i":551,"o":1.31840,"h":1.31858,"l":1.31795,"c":1.31820},
{"i":552,"o":1.31820,"h":1.31890,"l":1.31808,"c":1.31860},
{"i":553,"o":1.31860,"h":1.31870,"l":1.31805,"c":1.31840},
{"i":554,"o":1.31840,"h":1.31895,"l":1.31820,"c":1.31870},
{"i":555,"o":1.31870,"h":1.31910,"l":1.31835,"c":1.31850},
{"i":556,"o":1.31850,"h":1.31892,"l":1.31836,"c":1.31880},
{"i":557,"o":1.31880,"h":1.31902,"l":1.31830,"c":1.31860},
{"i":558,"o":1.31860,"h":1.31918,"l":1.31835,"c":1.31900},
{"i":559,"o":1.31900,"h":1.31960,"l":1.31888,"c":1.31930},
{"i":560,"o":1.31930,"h":1.31940,"l":1.31875,"c":1.31910},
{"i":561,"o":1.31910,"h":1.31975,"l":1.31890,"c":1.31950},
{"i":562,"o":1.31950,"h":1.32010,"l":1.31935,"c":1.31970},
{"i":563,"o":1.31970,"h":1.31982,"l":1.31936,"c":1.31950},
{"i":564,"o":1.31950,"h":1.32012,"l":1.31920,"c":1.31990},
{"i":565,"o":1.31990,"h":1.32038,"l":1.31965,"c":1.32020},
{"i":566,"o":1.32020,"h":1.32050,"l":1.31988,"c":1.32000},
{"i":567,"o":1.32000,"h":1.32050,"l":1.31965,"c":1.32040},
{"i":568,"o":1.32040,"h":1.32065,"l":1.32010,"c":1.32030},
{"i":569,"o":1.32030,"h":1.32110,"l":1.32015,"c":1.32070},
{"i":570,"o":1.32070,"h":1.32082,"l":1.32036,"c":1.32050},
{"i":571,"o":1.32050,"h":1.32112,"l":1.32020,"c":1.32090},
{"i":572,"o":1.32090,"h":1.32138,"l":1.32065,"c":1.32120},
{"i":573,"o":1.32120,"h":1.32170,"l":1.32108,"c":1.32140},
{"i":574,"o":1.32140,"h":1.32151,"l":1.32081,"c":1.32089},
{"i":575,"o":1.32089,"h":1.32219,"l":1.32080,"c":1.32179},
{"i":576,"o":1.32179,"h":1.32250,"l":1.32110,"c":1.32233},
{"i":577,"o":1.32233,"h":1.32240,"l":1.32052,"c":1.32114},
{"i":578,"o":1.32114,"h":1.32168,"l":1.32105,"c":1.32157},
{"i":579,"o":1.32157,"h":1.32200,"l":1.32150,"c":1.32179},
{"i":580,"o":1.32179,"h":1.32346,"l":1.32170,"c":1.32216},
{"i":581,"o":1.32216,"h":1.32225,"l":1.32117,"c":1.32160},
{"i":582,"o":1.32160,"h":1.32292,"l":1.32150,"c":1.32272},
{"i":583,"o":1.32272,"h":1.32310,"l":1.32265,"c":1.32303},
{"i":584,"o":1.32303,"h":1.32310,"l":1.32210,"c":1.32224},
{"i":585,"o":1.32224,"h":1.32315,"l":1.32210,"c":1.32306},
{"i":586,"o":1.32306,"h":1.32371,"l":1.32300,"c":1.32368},
{"i":587,"o":1.32368,"h":1.32630,"l":1.32360,"c":1.32625},
{"i":588,"o":1.32625,"h":1.32766,"l":1.32568,"c":1.32724},
{"i":589,"o":1.32724,"h":1.32755,"l":1.32550,"c":1.32571},
{"i":590,"o":1.32571,"h":1.32766,"l":1.32549,"c":1.32580},
{"i":591,"o":1.32580,"h":1.32670,"l":1.32549,"c":1.32656},
{"i":592,"o":1.32656,"h":1.32738,"l":1.32399,"c":1.32416},
{"i":593,"o":1.32416,"h":1.32498,"l":1.32410,"c":1.32492},
{"i":594,"o":1.32492,"h":1.32510,"l":1.32455,"c":1.32460},
{"i":595,"o":1.32460,"h":1.32505,"l":1.32450,"c":1.32495},
{"i":596,"o":1.32495,"h":1.32530,"l":1.32470,"c":1.32521},
{"i":597,"o":1.32521,"h":1.32525,"l":1.32467,"c":1.32470},
{"i":598,"o":1.32470,"h":1.32537,"l":1.32465,"c":1.32529},
{"i":599,"o":1.32529,"h":1.32545,"l":1.32475,"c":1.32478},
{"i":600,"o":1.32478,"h":1.32530,"l":1.32470,"c":1.32523},
{"i":601,"o":1.32523,"h":1.32590,"l":1.32510,"c":1.32571},
{"i":602,"o":1.32571,"h":1.32580,"l":1.32500,"c":1.32535},
{"i":603,"o":1.32535,"h":1.32595,"l":1.32530,"c":1.32583},
{"i":604,"o":1.32583,"h":1.32600,"l":1.32560,"c":1.32566},
{"i":605,"o":1.32566,"h":1.32575,"l":1.32530,"c":1.32535},
{"i":606,"o":1.32535,"h":1.32560,"l":1.32505,"c":1.32523},
{"i":607,"o":1.32523,"h":1.32590,"l":1.32515,"c":1.32577},
{"i":608,"o":1.32577,"h":1.32595,"l":1.32540,"c":1.32546},
{"i":609,"o":1.32546,"h":1.32550,"l":1.32500,"c":1.32523},
{"i":610,"o":1.32523,"h":1.32540,"l":1.32490,"c":1.32526},
{"i":611,"o":1.32526,"h":1.32575,"l":1.32520,"c":1.32566},
{"i":612,"o":1.32566,"h":1.32600,"l":1.32515,"c":1.32521},
{"i":613,"o":1.32521,"h":1.32525,"l":1.32427,"c":1.32447},
{"i":614,"o":1.32447,"h":1.32560,"l":1.32440,"c":1.32554},
{"i":615,"o":1.32554,"h":1.32620,"l":1.32548,"c":1.32616},
{"i":616,"o":1.32616,"h":1.32700,"l":1.32610,"c":1.32693},
{"i":617,"o":1.32693,"h":1.32730,"l":1.32675,"c":1.32684},
{"i":618,"o":1.32684,"h":1.32700,"l":1.32660,"c":1.32678},
{"i":619,"o":1.32678,"h":1.32705,"l":1.32670,"c":1.32695},
{"i":620,"o":1.32695,"h":1.32740,"l":1.32690,"c":1.32729},
{"i":621,"o":1.32729,"h":1.32760,"l":1.32720,"c":1.32752},
{"i":622,"o":1.32752,"h":1.32765,"l":1.32700,"c":1.32718},
{"i":623,"o":1.32718,"h":1.32780,"l":1.32710,"c":1.32777},
{"i":624,"o":1.32777,"h":1.32790,"l":1.32720,"c":1.32726},
{"i":625,"o":1.32726,"h":1.32735,"l":1.32640,"c":1.32670},
{"i":626,"o":1.32670,"h":1.32710,"l":1.32600,"c":1.32640},
{"i":627,"o":1.32640,"h":1.32705,"l":1.32630,"c":1.32690},
{"i":628,"o":1.32690,"h":1.32705,"l":1.32620,"c":1.32636},
{"i":629,"o":1.32636,"h":1.32680,"l":1.32625,"c":1.32670},
{"i":630,"o":1.32670,"h":1.32680,"l":1.32630,"c":1.32636},
{"i":631,"o":1.32636,"h":1.32640,"l":1.32590,"c":1.32599},
{"i":632,"o":1.32599,"h":1.32605,"l":1.32580,"c":1.32585},
{"i":633,"o":1.32585,"h":1.32590,"l":1.32530,"c":1.32554},
{"i":634,"o":1.32554,"h":1.32565,"l":1.32520,"c":1.32560},
{"i":635,"o":1.32560,"h":1.32600,"l":1.32545,"c":1.32588},
{"i":636,"o":1.32588,"h":1.32856,"l":1.32580,"c":1.32774},
{"i":637,"o":1.32774,"h":1.32853,"l":1.32760,"c":1.32831},
{"i":638,"o":1.32831,"h":1.32840,"l":1.32750,"c":1.32755},
{"i":639,"o":1.32755,"h":1.32830,"l":1.32700,"c":1.32819},
{"i":640,"o":1.32819,"h":1.32825,"l":1.32560,"c":1.32563},
{"i":641,"o":1.32563,"h":1.32570,"l":1.32470,"c":1.32475},
{"i":642,"o":1.32475,"h":1.32480,"l":1.32430,"c":1.32458},
{"i":643,"o":1.32458,"h":1.32500,"l":1.32420,"c":1.32473},
{"i":644,"o":1.32473,"h":1.32490,"l":1.32440,"c":1.32467},
{"i":645,"o":1.32467,"h":1.32520,"l":1.32460,"c":1.32501},
{"i":646,"o":1.32501,"h":1.32560,"l":1.32490,"c":1.32498},
{"i":647,"o":1.32498,"h":1.32510,"l":1.32485,"c":1.32505},
{"i":648,"o":1.32505,"h":1.32590,"l":1.32400,"c":1.32444},
{"i":649,"o":1.32444,"h":1.32460,"l":1.32380,"c":1.32450},
{"i":650,"o":1.32450,"h":1.32540,"l":1.32390,"c":1.32507},
{"i":651,"o":1.32507,"h":1.32540,"l":1.32450,"c":1.32461},
{"i":652,"o":1.32461,"h":1.32480,"l":1.32440,"c":1.32470},
{"i":653,"o":1.32470,"h":1.32570,"l":1.32465,"c":1.32523},
{"i":654,"o":1.32523,"h":1.32525,"l":1.32445,"c":1.32456},
{"i":655,"o":1.32456,"h":1.32530,"l":1.32450,"c":1.32523},
{"i":656,"o":1.32523,"h":1.32535,"l":1.32490,"c":1.32501},
{"i":657,"o":1.32501,"h":1.32525,"l":1.32490,"c":1.32518},
{"i":658,"o":1.32518,"h":1.32535,"l":1.32505,"c":1.32510},
{"i":659,"o":1.32510,"h":1.32530,"l":1.32490,"c":1.32521},
{"i":660,"o":1.32521,"h":1.32570,"l":1.32515,"c":1.32554},
{"i":661,"o":1.32554,"h":1.32600,"l":1.32540,"c":1.32546},
{"i":662,"o":1.32546,"h":1.32590,"l":1.32535,"c":1.32543},
{"i":663,"o":1.32543,"h":1.32560,"l":1.32525,"c":1.32535},
{"i":664,"o":1.32535,"h":1.32540,"l":1.32450,"c":1.32453},
{"i":665,"o":1.32453,"h":1.32490,"l":1.32430,"c":1.32478},
{"i":666,"o":1.32478,"h":1.32490,"l":1.32430,"c":1.32444},
{"i":667,"o":1.32444,"h":1.32480,"l":1.32420,"c":1.32470},
{"i":668,"o":1.32470,"h":1.32480,"l":1.32425,"c":1.32444},
{"i":669,"o":1.32444,"h":1.32470,"l":1.32420,"c":1.32458},
{"i":670,"o":1.32458,"h":1.32470,"l":1.32420,"c":1.32444},
{"i":671,"o":1.32444,"h":1.32480,"l":1.32435,"c":1.32467},
{"i":672,"o":1.32467,"h":1.32590,"l":1.32460,"c":1.32574},
{"i":673,"o":1.32574,"h":1.32640,"l":1.32570,"c":1.32608},
{"i":674,"o":1.32608,"h":1.32625,"l":1.32540,"c":1.32546},
{"i":675,"o":1.32546,"h":1.32640,"l":1.32540,"c":1.32619},
{"i":676,"o":1.32619,"h":1.32640,"l":1.32600,"c":1.32625},
{"i":677,"o":1.32625,"h":1.32630,"l":1.32570,"c":1.32580},
{"i":678,"o":1.32580,"h":1.32590,"l":1.32545,"c":1.32557},
{"i":679,"o":1.32557,"h":1.32565,"l":1.32520,"c":1.32540},
{"i":680,"o":1.32540,"h":1.32620,"l":1.32530,"c":1.32611},
{"i":681,"o":1.32611,"h":1.32625,"l":1.32600,"c":1.32616},
{"i":682,"o":1.32616,"h":1.32740,"l":1.32610,"c":1.32732},
{"i":683,"o":1.32732,"h":1.32745,"l":1.32695,"c":1.32701},
{"i":684,"o":1.32701,"h":1.32710,"l":1.32665,"c":1.32670},
{"i":685,"o":1.32670,"h":1.32853,"l":1.32660,"c":1.32684},
{"i":686,"o":1.32684,"h":1.32690,"l":1.32600,"c":1.32602},
{"i":687,"o":1.32602,"h":1.32610,"l":1.32330,"c":1.32332},
{"i":688,"o":1.32332,"h":1.32340,"l":1.32066,"c":1.32227},
{"i":689,"o":1.32227,"h":1.32340,"l":1.32210,"c":1.32332},
{"i":690,"o":1.32332,"h":1.32440,"l":1.32320,"c":1.32416},
{"i":691,"o":1.32416,"h":1.32430,"l":1.32320,"c":1.32405},
{"i":692,"o":1.32405,"h":1.32410,"l":1.32280,"c":1.32292},
{"i":693,"o":1.32292,"h":1.32300,"l":1.32260,"c":1.32284},
{"i":694,"o":1.32284,"h":1.32290,"l":1.32200,"c":1.32233},
{"i":695,"o":1.32233,"h":1.32360,"l":1.32225,"c":1.32354},
{"i":696,"o":1.32354,"h":1.32380,"l":1.32340,"c":1.32368},
{"i":697,"o":1.32368,"h":1.32480,"l":1.32360,"c":1.32473},
{"i":698,"o":1.32473,"h":1.32510,"l":1.32465,"c":1.32500},
{"i":699,"o":1.32500,"h":1.32509,"l":1.32449,"c":1.32464}
]
},
"layer":[
{"data":{"name":"levels"},
 "mark":{"type":"rule","strokeWidth":1},
 "encoding":{
  "y":{"field":"v","type":"quantitative","title":null,
   "scale":{"domain":[1.31089,1.339738],"nice":false,"zero":false},
   "axis":{"orient":"right","title":null,
    "values":[1.3392,1.3382,1.3372,1.3362,1.33525,1.33425,1.33325,1.33225,1.33125,1.3303,1.3293,1.3283,1.3273,1.3263,1.32535,1.32435,1.32335,1.32235,1.32135,1.32035,1.3194,1.3184,1.3174,1.3164,1.3154,1.31445,1.31345,1.31245,1.31145],
    "format":".5f","labelFont":"Liberation Sans","labelFontSize":18,"labelColor":"#000",
    "labelAlign":"left","labelBaseline":"middle","labelPadding":6,"labelOverlap":false,"labelFlush":false,"labelBound":false,
    "tickColor":"#000","tickSize":5,"tickWidth":1,"domainColor":"#000","domainWidth":1,
    "grid":true,"gridColor":"#bfbfbf","gridDash":[3,3],"gridWidth":1}},
  "color":{"field":"label","type":"nominal","legend":null,
   "scale":{"domain":["M30[+2/8]","M30[+1/8]","H4[7/8] H1[3/8] M30RES","M30[7/8]","M30[6/8]","M30[5/8]","D1[1/8] H4[6/8] H1[2/8] M30PIVOT","M30[3/8]","M30[2/8]","M30[1/8]","H4[5/8] H1[1/8] M30SUP","M30[-1/8]","M30[-2/8]"],
    "range":["#C71585","#FF00FF","#1E90FF","#FF8C00","#FF4500","#556B2F","#1E90FF","#556B2F","#FF4500","#FF8C00","#1E90FF","#FF00FF","#C71585"]}},
  "strokeDash":{"field":"label","type":"nominal","legend":null,
   "scale":{"domain":["M30[+2/8]","M30[+1/8]","H4[7/8] H1[3/8] M30RES","M30[7/8]","M30[6/8]","M30[5/8]","D1[1/8] H4[6/8] H1[2/8] M30PIVOT","M30[3/8]","M30[2/8]","M30[1/8]","H4[5/8] H1[1/8] M30SUP","M30[-1/8]","M30[-2/8]"],
    "range":[[10,3,2,3],[10,3,2,3],[15,5],[10,3,2,3],[10,3,2,3],[10,3,2,3],[1,0],[10,3,2,3],[10,3,2,3],[10,3,2,3],[15,5],[10,3,2,3],[10,3,2,3]]}}
 }},
{"data":{"name":"bid"},
 "mark":{"type":"rule","strokeWidth":1,"color":"#a8a8a8"},
 "encoding":{"y":{"field":"v","type":"quantitative","title":null}}},
{"data":{"name":"levels"},
 "mark":{"type":"text","align":"center","baseline":"alphabetic","dy":19,"font":"Liberation Sans","fontSize":21},
 "encoding":{
  "x":{"datum":674.25,"type":"quantitative","title":null},
  "y":{"field":"v","type":"quantitative","title":null},
  "text":{"field":"label"},
  "color":{"field":"label","type":"nominal","legend":null}
 }},
{"data":{"name":"bars"},
 "mark":{"type":"rule","color":"#000","strokeWidth":1,"xOffset":0.5},
 "encoding":{
  "x":{"field":"i","type":"quantitative","title":null,
   "scale":{"domain":[-0.5,935.25],"nice":false,"zero":false},
   "axis":{"orient":"bottom","title":null,
    "values":[0,16,32,48,64,80,96,112,128,144,160,176,192,208,224,240,256,272,288,304,320,336,352,368,384,400,416,432,448,464,480,496,512,528,544,560,576,592,608,624,640,656,672,688,704,720,736,752,768,784,800,816,832,848,864,880,896,912,928],
    "labelExpr":"datum.value % 32 == 0 && datum.value <= 672 ? ['12 Jun 2023','13 Jun 01:30','13 Jun 17:30','14 Jun 09:30','15 Jun 01:30','15 Jun 17:30','16 Jun 09:30','19 Jun 01:30','19 Jun 17:30','20 Jun 09:30','21 Jun 01:30','21 Jun 17:30','22 Jun 09:30','23 Jun 01:30','23 Jun 17:30','26 Jun 09:30','27 Jun 01:30','27 Jun 17:30','28 Jun 09:30','29 Jun 01:30','29 Jun 17:30','30 Jun 09:30'][datum.value / 32] : ''",
    "labelFont":"Liberation Sans","labelFontSize":17,"labelColor":"#000",
    "labelAlign":"left","labelBaseline":"middle","labelPadding":13,"labelOverlap":false,"labelFlush":false,"labelBound":false,
    "tickSize":4,"tickWidth":1,
    "tickColor":{"condition":{"test":"datum.value % 32 == 0 && datum.value <= 672","value":"#000"},"value":"transparent"},
    "domainColor":"#000","domainWidth":1,
    "grid":true,"gridColor":"#bfbfbf","gridDash":[3,3],"gridWidth":1}},
  "y":{"field":"l","type":"quantitative","title":null},
  "y2":{"field":"h"}
 }},
{"data":{"name":"bars"},
 "mark":{"type":"bar","orient":"vertical","width":2,"stroke":"#000","strokeWidth":1,"xOffset":0.5},
 "encoding":{
  "x":{"field":"i","type":"quantitative","title":null},
  "y":{"field":"o","type":"quantitative","title":null},
  "y2":{"field":"c"},
  "fill":{"condition":{"test":"datum.c < datum.o","value":"#000"},"value":"#fff"}
 }},
{"data":{"name":"marks"},
 "mark":{"type":"point","shape":"M-1,-1L1,1M-1,1L1,-1","size":1225,"filled":false,"stroke":"#777","strokeWidth":8,"strokeCap":"round","opacity":0.3,"xOffset":3,"yOffset":4},
 "encoding":{"x":{"field":"i","type":"quantitative","title":null},"y":{"field":"p","type":"quantitative","title":null}}},
{"data":{"name":"marks"},
 "mark":{"type":"point","shape":"M-1,-1L1,1M-1,1L1,-1","size":1225,"filled":false,"stroke":"#EE3B3B","strokeWidth":7,"strokeCap":"round","opacity":1},
 "encoding":{"x":{"field":"i","type":"quantitative","title":null},"y":{"field":"p","type":"quantitative","title":null}}},
{"data":{"name":"levels"},
 "mark":{"type":"tick","orient":"horizontal","size":79,"thickness":22,"yOffset":6,"opacity":1},
 "encoding":{
  "x":{"datum":945.875,"type":"quantitative","title":null},
  "y":{"field":"v","type":"quantitative","title":null},
  "color":{"field":"label","type":"nominal","legend":null}
 }},
{"data":{"name":"bid"},
 "mark":{"type":"tick","orient":"horizontal","size":79,"thickness":20,"yOffset":0,"opacity":1,"color":"#000"},
 "encoding":{
  "x":{"datum":945.875,"type":"quantitative","title":null},
  "y":{"field":"v","type":"quantitative","title":null}
 }},
{"data":{"name":"levels"},
 "mark":{"type":"text","align":"left","baseline":"middle","dy":6,"font":"Liberation Sans","fontSize":18,"color":"#fff"},
 "encoding":{
  "x":{"datum":938,"type":"quantitative","title":null},
  "y":{"field":"v","type":"quantitative","title":null},
  "text":{"field":"v","type":"quantitative","format":".5f"}
 }},
{"data":{"name":"bid"},
 "mark":{"type":"text","align":"left","baseline":"middle","dy":0,"font":"Liberation Sans","fontSize":18,"color":"#fff"},
 "encoding":{
  "x":{"datum":938,"type":"quantitative","title":null},
  "y":{"field":"v","type":"quantitative","title":null},
  "text":{"field":"v","type":"quantitative","format":".5f"}
 }},
{"data":{"values":[{"t":"USDCAD,M30\u00a0 1.32500 1.32509 1.32449 1.32464"}]},
 "mark":{"type":"text","align":"left","baseline":"alphabetic","font":"Liberation Sans","fontSize":18,"color":"#000"},
 "encoding":{
  "x":{"datum":6.75,"type":"quantitative","title":null},
  "y":{"datum":1.3394,"type":"quantitative","title":null},
  "text":{"field":"t"}
 }},
{"data":{"values":[{"t":"menu"}]},
 "mark":{"type":"point","shape":"triangle-down","size":70,"filled":true,"color":"#000","opacity":1},
 "encoding":{
  "x":{"datum":1.875,"type":"quantitative","title":null},
  "y":{"datum":1.339495,"type":"quantitative","title":null}
 }}
]
}
